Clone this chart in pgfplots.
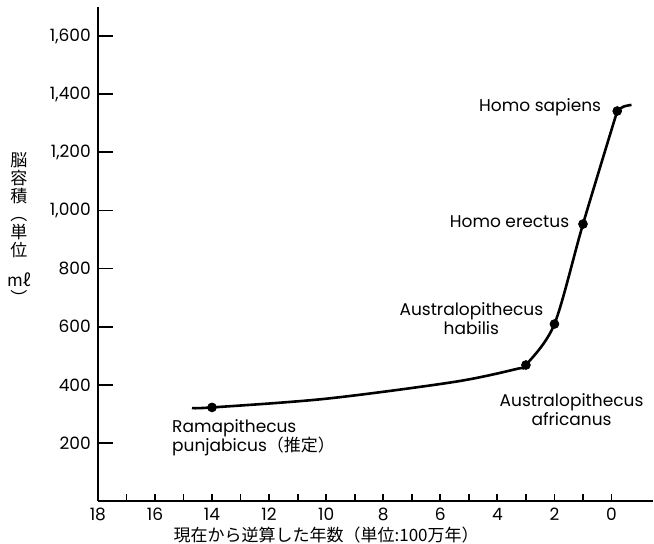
\documentclass[border=0pt]{standalone}
\usepackage{pgfplots}
\pgfplotsset{compat=1.18}
\usepackage{fontspec}
\setmainfont{Poppins}
\newfontfamily\cjk{Noto Sans CJK JP}
\begin{document}
\begin{tikzpicture}
\begin{axis}[
  scale only axis, width=277.5pt, height=247pt,
  x dir=reverse, xmin=-1.45, xmax=18, ymin=0, ymax=1700,
  axis x line=bottom, axis y line=left,
  axis line style={-, line width=1.1pt},
  tick align=inside,
  xtick={0,2,...,18}, minor xtick={1,3,...,17},
  ytick={200,400,...,1600},
  major tick length=3.5pt, minor tick length=3.5pt,
  every tick/.style={black, line width=0.9pt},
  y tick style={/pgfplots/major tick length=7.5pt},
  tick label style={font=\fontsize{8.5}{10}\selectfont},
  /pgf/number format/assume math mode=true,
  /pgf/number format/1000 sep={,},
  clip=false,
]
\addplot[black, line width=1.3pt, smooth, tension=0.5] coordinates {
  (14.7,320) (14,322) (10,352) (5.5,410) (3.3,455) (3,468) (2,609) (1,953) (-0.2,1342)
};
\addplot[black, line width=1.3pt, smooth, tension=0.6] coordinates {
  (-0.2,1342) (-0.42,1357) (-0.7,1363)
};
\addplot[only marks, mark=*, mark size=2.2pt, black] coordinates {
  (14,322) (3,468) (2,609) (1,953) (-0.2,1342)
};
\path (axis cs:21.43,1724) rectangle (axis cs:-1.47,-144.5);
\begin{scope}[every node/.style={font=\fontsize{8.5}{9.5}\selectfont, inner sep=0pt}]
\node[anchor=east] at (axis cs:0.35,1356) {Homo sapiens};
\node[anchor=east] at (axis cs:1.47,960) {Homo erectus};
\node[anchor=east, align=center] at (axis cs:2.38,626) {Australopithecus\\habilis};
\node[align=center] at (axis cs:1.4,313) {Australopithecus\\africanus};
\node[anchor=west, align=left] at (axis cs:15.41,217) {Ramapithecus\\punjabicus{\cjk （推定）}};
\node at (axis cs:10,-117) {\cjk 現在から逆算した年数（単位:100万年）};
\node[align=center, font=\cjk\fontsize{8.5}{9}\selectfont] at (axis cs:20.77,939) {脳\\容\\積\\︵\\単\\位\\[6pt]mℓ\\︶};
\end{scope}
\end{axis}
\end{tikzpicture}
\end{document}
